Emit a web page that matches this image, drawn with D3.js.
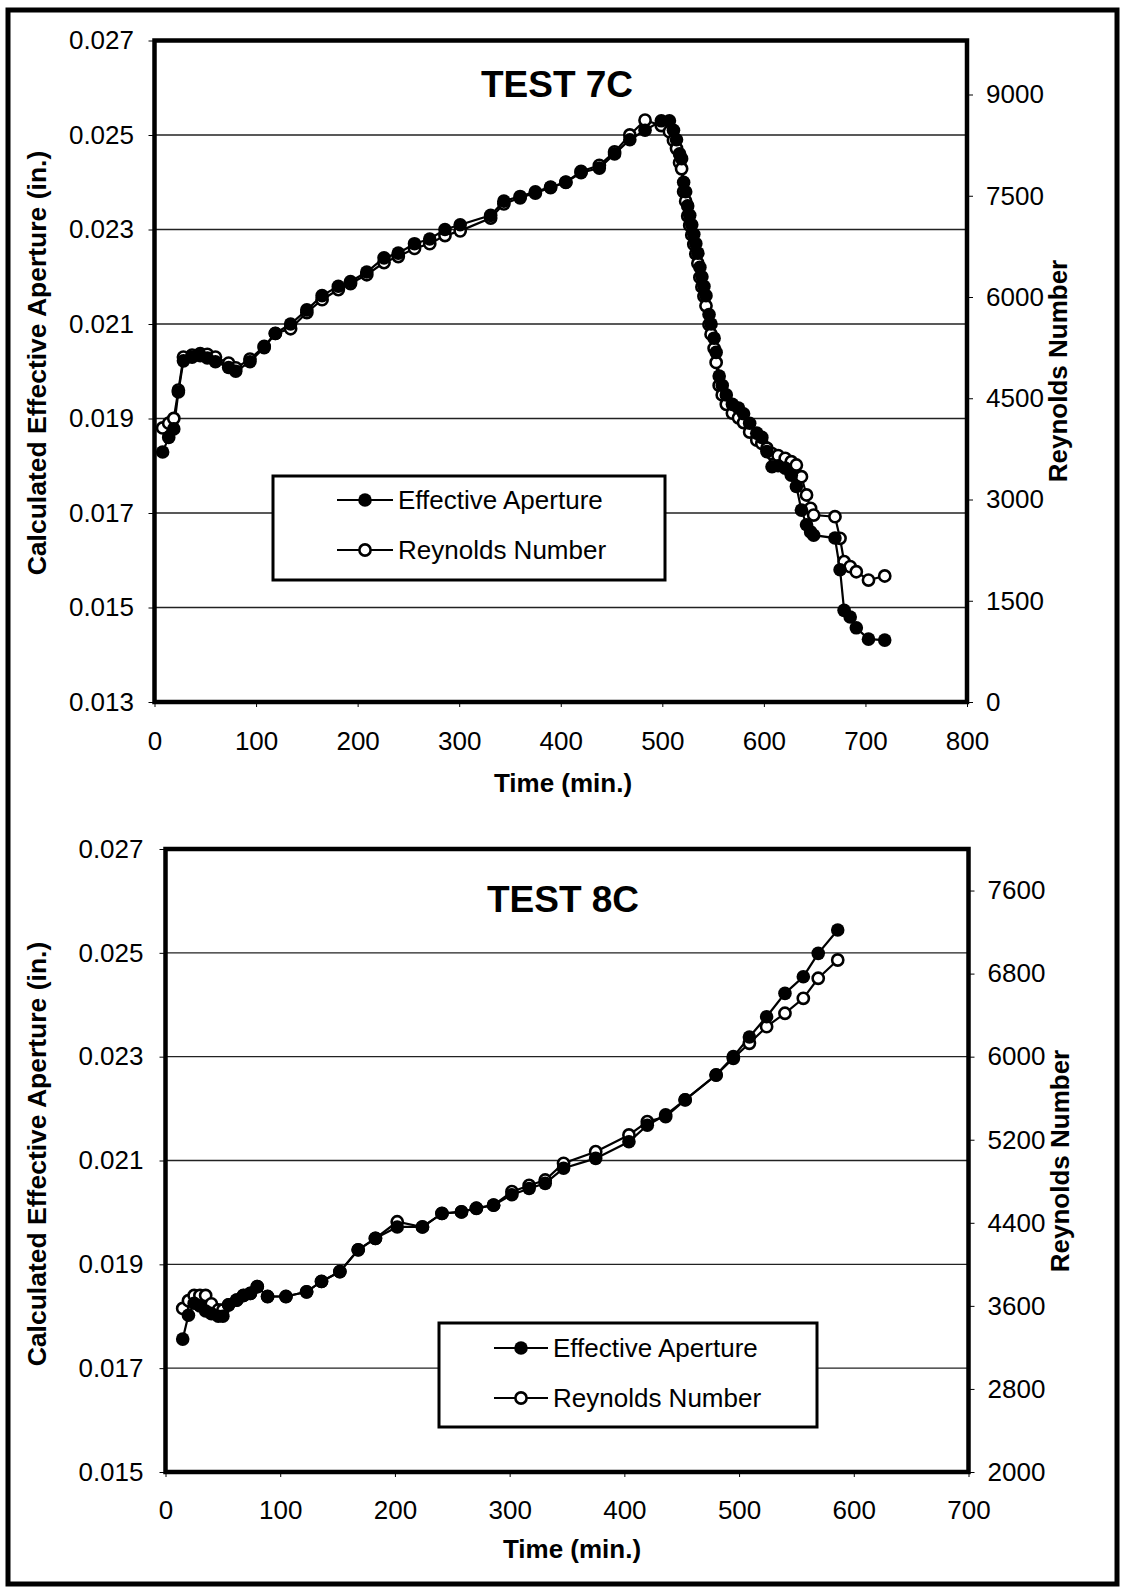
<!DOCTYPE html>
<html>
<head>
<meta charset="utf-8">
<script src="https://cdn.jsdelivr.net/npm/d3@7"></script>
<style>
  html, body { margin: 0; padding: 0; background: #fff; }
  svg text { font-family: "Liberation Sans", Arial, sans-serif; fill: #000; }
</style>
</head>
<body>
<svg id="chart" width="1122" height="1589"></svg>
<script>
// ---------- TEST 7C ----------
const test7Time = [8, 14, 19, 23.5, 28.5, 37, 45, 52, 60, 73,
  80, 94, 108, 119, 134, 150, 165, 181, 193, 209,
  226, 240, 256, 271, 286, 301, 331, 344, 360, 375,
  390, 405, 420, 438, 453, 468, 483, 499, 507, 511,
  514, 517, 519, 521, 523, 525, 527, 529, 531, 533,
  535, 537, 539, 541, 543, 546, 548, 551, 553, 556,
  559, 563, 569, 575, 580, 586, 593, 598, 603, 608,
  614, 621, 627, 632, 637, 642, 646, 649, 670, 675,
  679, 685, 691, 703, 719];
const test7Aperture = [0.01829, 0.0186, 0.01878, 0.01956, 0.02022, 0.0203, 0.02033, 0.02028, 0.0202, 0.02008,
  0.0200, 0.0202, 0.0205, 0.0208, 0.0210, 0.0213, 0.0216, 0.0218, 0.0219, 0.0221,
  0.0224, 0.0225, 0.0227, 0.0228, 0.0230, 0.0231, 0.0233, 0.0236, 0.0237, 0.0238,
  0.0239, 0.0240, 0.0242, 0.0243, 0.0246, 0.0249, 0.0251, 0.0253, 0.0253, 0.0251,
  0.0249, 0.0246, 0.0245, 0.0240, 0.0238, 0.0235, 0.0233, 0.0231, 0.0229, 0.0227,
  0.0225, 0.0222, 0.0220, 0.0218, 0.0216, 0.0212, 0.0210, 0.0207, 0.0204, 0.0199,
  0.0197, 0.0195, 0.0193, 0.01922, 0.0191, 0.0189, 0.01869, 0.0186, 0.0183, 0.01798,
  0.0180, 0.01795, 0.0178, 0.01756, 0.01706, 0.01675, 0.0166, 0.01653, 0.01647, 0.0158,
  0.01494, 0.0148, 0.01457, 0.01433, 0.01431];
const test7Reynolds = [4060, 4130, 4200, 4620, 5110, 5140, 5160, 5150, 5110, 5020,
  4950, 5080, 5270, 5460, 5530, 5770, 5960, 6110, 6200, 6330,
  6510, 6600, 6720, 6790, 6910, 6980, 7170, 7380, 7470, 7540,
  7620, 7700, 7860, 7950, 8150, 8400, 8620, 8540, 8450, 8320,
  8200, 7990, 7900, 7560, 7420, 7200, 7060, 6920, 6780, 6640,
  6500, 6290, 6150, 6010, 5870, 5590, 5450, 5240, 5030, 4690,
  4550, 4410, 4280, 4210, 4140, 4000, 3880, 3830, 3760, 3680,
  3650, 3610, 3560, 3511, 3338, 3067, 2870, 2770, 2745, 2425,
  2079, 2005, 1930, 1807, 1867];
const test7TimeTicks = [0, 100, 200, 300, 400, 500, 600, 700, 800];
const test7ApertureTicks = [0.013, 0.015, 0.017, 0.019, 0.021, 0.023, 0.025, 0.027];
const test7ReynoldsTicks = [0, 1500, 3000, 4500, 6000, 7500, 9000];

// ---------- TEST 8C ----------
const test8Time = [15, 20, 25, 30, 35, 40, 46, 50, 55, 62,
  68, 74, 80, 89, 105, 123, 136, 152, 168, 183,
  202, 224, 241, 258, 271, 286, 302, 317, 331, 347,
  375, 404, 420, 436, 453, 480, 495, 509, 524, 540,
  556, 569, 586];
const test8Aperture = [0.01756, 0.01802, 0.01825, 0.0182, 0.0181, 0.01805, 0.0180, 0.0180, 0.01822, 0.01831,
  0.0184, 0.01844, 0.01857, 0.01838, 0.01838, 0.01847, 0.01867, 0.01886, 0.01928, 0.0195,
  0.01972, 0.01972, 0.01998, 0.02001, 0.02008, 0.02014, 0.02034, 0.02046, 0.02056, 0.02085,
  0.02104, 0.02136, 0.02168, 0.02188, 0.02217, 0.02265, 0.0230, 0.02338, 0.02377, 0.02422,
  0.02454, 0.02499, 0.02544];
const test8Reynolds = [3575, 3650, 3700, 3700, 3700, 3620, 3560, 3560, 3610, 3655,
  3700, 3720, 3785, 3690, 3690, 3735, 3835, 3930, 4140, 4250,
  4410, 4360, 4490, 4505, 4540, 4570, 4700, 4760, 4812, 4973,
  5085, 5246, 5374, 5422, 5583, 5823, 5984, 6129, 6289, 6418,
  6562, 6755, 6931];
const test8TimeTicks = [0, 100, 200, 300, 400, 500, 600, 700];
const test8ApertureTicks = [0.015, 0.017, 0.019, 0.021, 0.023, 0.025, 0.027];
const test8ReynoldsTicks = [2000, 2800, 3600, 4400, 5200, 6000, 6800, 7600];

const seriesNames = ["Effective Aperture", "Reynolds Number"];

const svg = d3.select("#chart");

// page frame
svg.append("rect")
  .attr("x", 8).attr("y", 10).attr("width", 1109).attr("height", 1574)
  .attr("fill", "none").attr("stroke", "#000").attr("stroke-width", 5);

function drawPanel(p) {
  const g = svg.append("g");
  const x = d3.scaleLinear().domain(p.timeDomain).range([p.left, p.right]);
  const yA = d3.scaleLinear().domain(p.apertureDomain).range([p.bottom, p.top]);
  const yR = d3.scaleLinear().domain(p.reynoldsDomain).range([p.bottom, p.top]);

  // horizontal gridlines at the aperture ticks
  g.append("g").selectAll("line")
    .data(p.apertureTicks.filter(v => v > p.apertureDomain[0] + 1e-9 && v < p.apertureDomain[1] - 1e-9))
    .join("line")
    .attr("x1", p.left).attr("x2", p.right)
    .attr("y1", d => yA(d)).attr("y2", d => yA(d))
    .attr("stroke", "#222").attr("stroke-width", 1.3);

  const styleAxis = (sel) => {
    sel.select(".domain").remove();
    sel.selectAll(".tick line").attr("stroke", "#000").attr("stroke-width", 1);
    sel.selectAll(".tick text").attr("font-size", 26).attr("fill", "#000")
      .attr("font-family", '"Liberation Sans", Arial, sans-serif');
  };

  g.append("g").attr("transform", `translate(${p.left},0)`)
    .call(d3.axisLeft(yA).tickValues(p.apertureTicks).tickFormat(d3.format(".3f"))
      .tickSize(6).tickPadding(p.leftPad))
    .call(styleAxis);

  g.append("g").attr("transform", `translate(${p.right},0)`)
    .call(d3.axisRight(yR).tickValues(p.reynoldsTicks).tickFormat(d3.format("d"))
      .tickSize(6).tickPadding(13))
    .call(styleAxis);

  g.append("g").attr("transform", `translate(0,${p.bottom})`)
    .call(d3.axisBottom(x).tickValues(p.timeTicks).tickFormat(d3.format("d"))
      .tickSize(5).tickPadding(p.bottomPad))
    .call(styleAxis);

  // series lines
  const lineA = d3.line().x((d, i) => x(p.time[i])).y(d => yA(d));
  const lineR = d3.line().x((d, i) => x(p.time[i])).y(d => yR(d));

  g.append("path").datum(p.reynolds).attr("d", lineR)
    .attr("fill", "none").attr("stroke", "#000").attr("stroke-width", 2.2);
  g.append("path").datum(p.aperture).attr("d", lineA)
    .attr("fill", "none").attr("stroke", "#000").attr("stroke-width", 2.2);

  g.append("g").selectAll("circle").data(p.reynolds).join("circle")
    .attr("cx", (d, i) => x(p.time[i])).attr("cy", d => yR(d))
    .attr("r", 5.6).attr("fill", "#fff").attr("stroke", "#000").attr("stroke-width", 2.6);
  g.append("g").selectAll("circle").data(p.aperture).join("circle")
    .attr("cx", (d, i) => x(p.time[i])).attr("cy", d => yA(d))
    .attr("r", 6.8).attr("fill", "#000");

  // plot area border
  g.append("rect")
    .attr("x", p.left).attr("y", p.top)
    .attr("width", p.right - p.left).attr("height", p.bottom - p.top)
    .attr("fill", "none").attr("stroke", "#000").attr("stroke-width", 4.5);

  // title
  g.append("text").attr("x", p.titleX).attr("y", p.titleY)
    .attr("text-anchor", "middle").attr("font-size", 37).attr("font-weight", "bold")
    .text(p.title);

  // axis titles
  g.append("text").attr("x", p.xTitleX).attr("y", p.xTitleY)
    .attr("text-anchor", "middle").attr("font-size", 26).attr("font-weight", "bold")
    .text("Time (min.)");
  g.append("text")
    .attr("transform", `translate(${p.leftTitleX},${p.leftTitleY}) rotate(-90)`)
    .attr("text-anchor", "middle").attr("font-size", 26.5).attr("font-weight", "bold")
    .text("Calculated Effective Aperture (in.)");
  g.append("text")
    .attr("transform", `translate(${p.rightTitleX},${p.rightTitleY}) rotate(-90)`)
    .attr("text-anchor", "middle").attr("font-size", 26).attr("font-weight", "bold")
    .text("Reynolds Number");

  // legend
  const L = p.legend;
  g.append("rect").attr("x", L.x).attr("y", L.y).attr("width", L.w).attr("height", L.h)
    .attr("fill", "#fff").attr("stroke", "#000").attr("stroke-width", 3);
  seriesNames.forEach((name, i) => {
    const cy = L.y + L.row0 + i * L.rowGap;
    g.append("line").attr("x1", L.lineX1).attr("x2", L.lineX2).attr("y1", cy).attr("y2", cy)
      .attr("stroke", "#000").attr("stroke-width", 2.2);
    const mx = (L.lineX1 + L.lineX2) / 2;
    if (i === 0) {
      g.append("circle").attr("cx", mx).attr("cy", cy).attr("r", 6.8).attr("fill", "#000");
    } else {
      g.append("circle").attr("cx", mx).attr("cy", cy).attr("r", 5.6)
        .attr("fill", "#fff").attr("stroke", "#000").attr("stroke-width", 2.6);
    }
    g.append("text").attr("x", L.lineX2 + 5).attr("y", cy).attr("dy", "0.35em")
      .attr("font-size", 26).text(name);
  });
}

drawPanel({
  title: "TEST 7C",
  time: test7Time, aperture: test7Aperture, reynolds: test7Reynolds,
  timeTicks: test7TimeTicks, apertureTicks: test7ApertureTicks, reynoldsTicks: test7ReynoldsTicks,
  timeDomain: [0, 800], apertureDomain: [0.013, 0.027], reynoldsDomain: [0, 9800],
  left: 154.5, right: 967, top: 40.5, bottom: 702,
  leftPad: 14.5, bottomPad: 25,
  titleX: 557, titleY: 97,
  xTitleX: 563, xTitleY: 792,
  leftTitleX: 46, leftTitleY: 363,
  rightTitleX: 1067, rightTitleY: 371,
  legend: { x: 273, y: 476, w: 392, h: 104, row0: 24, rowGap: 50, lineX1: 337, lineX2: 393 }
});

drawPanel({
  title: "TEST 8C",
  time: test8Time, aperture: test8Aperture, reynolds: test8Reynolds,
  timeTicks: test8TimeTicks, apertureTicks: test8ApertureTicks, reynoldsTicks: test8ReynoldsTicks,
  timeDomain: [0, 700], apertureDomain: [0.015, 0.027], reynoldsDomain: [2000, 8000],
  left: 165.5, right: 968.5, top: 849, bottom: 1472,
  leftPad: 16, bottomPad: 24,
  titleX: 563, titleY: 912,
  xTitleX: 572, xTitleY: 1558,
  leftTitleX: 46, leftTitleY: 1154,
  rightTitleX: 1069, rightTitleY: 1161,
  legend: { x: 439, y: 1323, w: 378, h: 104, row0: 25, rowGap: 50, lineX1: 494, lineX2: 548 }
});
</script>
</body>
</html>
